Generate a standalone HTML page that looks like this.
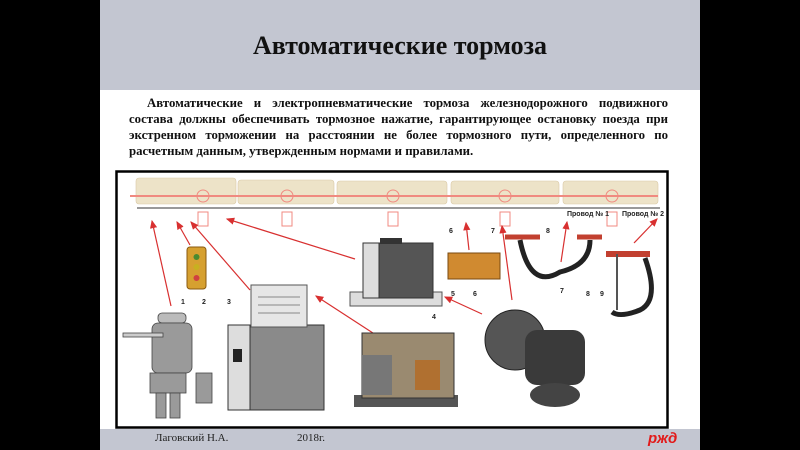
<!DOCTYPE html>
<html><head><meta charset="utf-8"><style>
html,body{margin:0;padding:0;width:800px;height:450px;overflow:hidden;background:#000}
.slide{position:absolute;left:100px;top:0;width:600px;height:450px;background:#fff}
.hdr{position:absolute;left:0;top:0;width:600px;height:90px;background:#c3c6d1}
.title{position:absolute;left:0;top:31px;width:600px;text-align:center;font:bold 26px "Liberation Serif",serif;color:#111}
.body{position:absolute;left:29px;top:95px;width:539px;font:bold 12.8px/16px "Liberation Serif",serif;color:#111}
.body div{text-align:justify;text-align-last:justify;white-space:nowrap}
.body div.l{text-align-last:left}
.ftr{position:absolute;left:0;top:429px;width:600px;height:21px;background:#c3c6d1;font:11px "Liberation Serif",serif;color:#222}
svg{position:absolute;left:0;top:0}
</style></head><body>
<div class="slide">
<div class="hdr"><div class="title">Автоматические тормоза</div></div>
<div class="body">
<div style="padding-left:18px">Автоматические и электропневматические тормоза железнодорожного подвижного</div>
<div>состава должны обеспечивать тормозное нажатие, гарантирующее остановку поезда при</div>
<div>экстренном торможении на расстоянии не более тормозного пути, определенного по</div>
<div class="l">расчетным данным, утвержденным нормами и правилами.</div>
</div>
<div class="ftr"><span style="position:absolute;left:55px;top:3px">Лаговский Н.А.</span><span style="position:absolute;left:197px;top:3px">2018г.</span><span style="position:absolute;left:548px;top:1px;color:#e21a1a;font:bold italic 15px 'Liberation Sans',sans-serif">ржд</span></div>
</div>
<svg width="800" height="450" viewBox="0 0 800 450">
<defs><marker id="a" markerWidth="8" markerHeight="8" refX="6" refY="3" orient="auto"><path d="M0,0 L7,3 L0,6z" fill="#d83030"/></marker></defs>
<rect x="116.5" y="171.5" width="551" height="256" fill="#fff" stroke="#000" stroke-width="2.5"/>
<g fill="#ede3c8" stroke="#d9c9a6" stroke-width="0.6">
<rect x="136" y="178" width="100" height="26" rx="3"/>
<rect x="238" y="180" width="96" height="24" rx="3"/>
<rect x="337" y="181" width="110" height="23" rx="3"/>
<rect x="451" y="181" width="108" height="23" rx="3"/>
<rect x="563" y="181" width="95" height="23" rx="3"/>
</g>
<line x1="130" y1="196" x2="658" y2="196" stroke="#f08a80" stroke-width="2"/>
<line x1="137" y1="208" x2="660" y2="208" stroke="#333" stroke-width="1"/>
<g fill="none" stroke="#f08a80" stroke-width="1">
<circle cx="203" cy="196" r="6"/><circle cx="287" cy="196" r="6"/><circle cx="393" cy="196" r="6"/><circle cx="505" cy="196" r="6"/><circle cx="612" cy="196" r="6"/>
<rect x="198" y="212" width="10" height="14"/><rect x="282" y="212" width="10" height="14"/><rect x="388" y="212" width="10" height="14"/><rect x="500" y="212" width="10" height="14"/><rect x="607" y="212" width="10" height="14"/>
</g>
<g font-family="Liberation Sans,sans-serif" font-size="7" font-weight="bold" fill="#222">
<text x="567" y="216">Провод № 1</text><text x="622" y="216">Провод № 2</text>
<text x="449" y="233">6</text><text x="491" y="233">7</text><text x="546" y="233">8</text>
<text x="181" y="304">1</text><text x="202" y="304">2</text><text x="227" y="304">3</text><text x="451" y="296">5</text>
<text x="473" y="296">6</text><text x="432" y="319">4</text><text x="560" y="293">7</text><text x="586" y="296">8</text><text x="600" y="296">9</text>
</g>
<g stroke="#d83030" stroke-width="1.2" marker-end="url(#a)">
<line x1="171" y1="306" x2="152" y2="221"/>
<line x1="190" y1="245" x2="177" y2="222"/>
<line x1="250" y1="290" x2="191" y2="222"/>
<line x1="355" y1="259" x2="227" y2="219"/>
<line x1="376" y1="335" x2="316" y2="296"/>
<line x1="482" y1="314" x2="445" y2="297"/>
<line x1="512" y1="300" x2="502" y2="226"/>
<line x1="469" y1="250" x2="466" y2="223"/>
<line x1="561" y1="262" x2="567" y2="222"/>
<line x1="634" y1="243" x2="657" y2="219"/>
</g>
<g fill="#9a9a9a" stroke="#444" stroke-width="0.8">
<rect x="158" y="313" width="28" height="10" rx="4" fill="#bbb"/>
<rect x="152" y="323" width="40" height="50" rx="6"/>
<rect x="123" y="333" width="40" height="4" fill="#ccc"/>
<rect x="150" y="373" width="36" height="20"/>
<rect x="156" y="393" width="10" height="25"/><rect x="170" y="393" width="10" height="25"/>
<rect x="196" y="373" width="16" height="30"/>
</g>
<rect x="187" y="247" width="19" height="42" rx="3" fill="#d6a030" stroke="#8a5a10"/>
<circle cx="196.5" cy="257" r="3" fill="#4a8a30"/><circle cx="196.5" cy="267" r="3" fill="#c8b020"/><circle cx="196.5" cy="278" r="3" fill="#d04040"/>
<rect x="228" y="325" width="96" height="85" fill="#8a8a8a" stroke="#333"/>
<rect x="228" y="325" width="22" height="85" fill="#ddd" stroke="#333"/>
<rect x="251" y="285" width="56" height="42" fill="#e6e6e6" stroke="#555"/>
<g stroke="#888"><line x1="258" y1="297" x2="300" y2="297"/><line x1="258" y1="305" x2="300" y2="305"/><line x1="258" y1="313" x2="300" y2="313"/></g>
<rect x="233" y="349" width="9" height="13" fill="#222"/>
<rect x="350" y="292" width="92" height="14" fill="#ddd" stroke="#555"/>
<rect x="363" y="243" width="70" height="55" fill="#555" stroke="#333"/>
<rect x="363" y="243" width="16" height="55" fill="#ddd" stroke="#333"/>
<rect x="380" y="238" width="22" height="6" fill="#333"/>
<rect x="448" y="253" width="52" height="26" fill="#d08a30" stroke="#7a4a10"/>
<rect x="354" y="395" width="104" height="12" fill="#555"/>
<rect x="362" y="333" width="92" height="65" fill="#9a8a70" stroke="#333"/>
<rect x="362" y="355" width="30" height="40" fill="#777"/>
<rect x="415" y="360" width="25" height="30" fill="#b07030"/>
<ellipse cx="515" cy="340" rx="30" ry="30" fill="#555" stroke="#222"/>
<rect x="525" y="330" width="60" height="55" rx="12" fill="#3a3a3a"/>
<ellipse cx="555" cy="395" rx="25" ry="12" fill="#444"/>
<g stroke="#c24030" stroke-width="5" fill="none">
<line x1="505" y1="237" x2="540" y2="237"/><line x1="577" y1="237" x2="602" y2="237"/>
</g>
<path d="M520,240 Q530,290 560,272 Q590,265 590,240" stroke="#222" stroke-width="5" fill="none"/>
<line x1="606" y1="254" x2="650" y2="254" stroke="#c24030" stroke-width="6"/>
<path d="M645,258 Q660,300 640,310 Q620,318 612,312" stroke="#222" stroke-width="5" fill="none"/>
<line x1="617" y1="254" x2="617" y2="310" stroke="#555" stroke-width="2"/>
</svg>
</body></html>
